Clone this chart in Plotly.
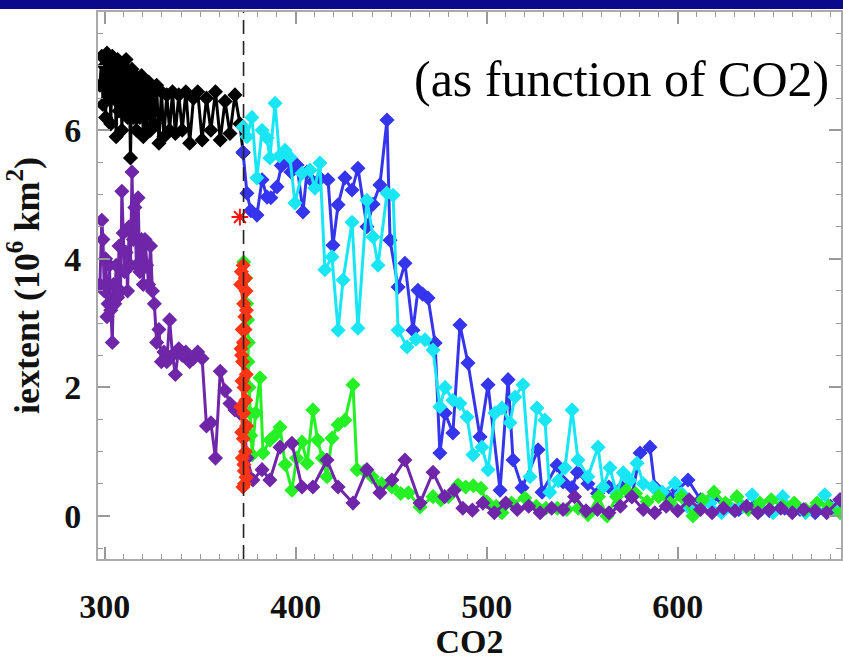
import plotly.graph_objects as go

# ---------------- data ----------------
hist_co2 = [297.5, 298.5, 299.1, 299.8, 300.5, 301.2, 301.8, 302.5, 303.2, 304.0,
            304.6, 305.3, 306.0, 306.8, 307.5, 308.3, 309.0, 309.7, 310.4, 311.2,
            312.0, 312.8, 313.5, 314.3, 315.0, 315.8, 316.6, 317.5, 318.4, 319.3,
            320.2, 321.1, 322.0, 323.0, 324.0, 325.0, 326.0, 327.2, 328.4, 329.7,
            331.0, 332.5, 334.0, 335.5, 337.0, 338.8, 340.6, 342.5, 344.5, 346.5,
            348.7, 351.0, 353.3, 355.6, 358.0, 360.5, 363.0, 365.6, 368.2, 370.8, 372.5]

black_ext = [6.7, 7.15, 6.4, 7.0, 6.2, 7.2, 6.5, 7.1, 6.1, 7.15,
             6.5, 7.0, 5.9, 7.1, 6.3, 7.05, 6.0, 7.0, 6.3, 7.1,
             6.2, 6.9, 5.57, 6.95, 6.2, 6.85, 6.0, 6.8, 6.2, 6.85,
             5.9, 6.7, 6.0, 6.75, 6.0, 6.6, 6.1, 6.7, 5.8, 6.6,
             5.9, 6.55, 6.0, 6.6, 5.95, 6.55, 6.0, 6.6, 5.8, 6.5,
             6.6, 5.85, 6.5, 6.0, 6.6, 5.85, 6.45, 5.95, 6.55, 6.1, 5.65]

purple_co2 = hist_co2 + [374.5, 377.6, 382.4, 386.5, 391.8, 398.0, 403.3, 409.0, 416.4, 422.2,
                         430.0, 437.3, 444.1, 450.4, 457.2, 465.1, 471.9, 478.0, 483.0, 487.5,
                         492.5, 498.0, 504.0, 510.0, 516.0, 522.0, 528.0, 534.0, 540.0, 546.0,
                         552.0, 558.0, 564.0, 570.0, 576.0, 582.0, 588.0, 594.0, 600.0, 606.0,
                         612.0, 618.0, 624.0, 630.0, 636.0, 642.0, 648.0, 654.0, 660.0, 666.0,
                         672.0, 678.0, 685.0]
purple_ext = [3.6, 4.6, 4.3, 3.5, 4.0, 3.1, 3.3, 3.9, 3.2, 2.7,
              3.6, 3.3, 3.9, 3.4, 4.2, 3.5, 5.05, 4.4, 3.8, 4.1,
              3.5, 4.5, 3.9, 5.35, 4.3, 4.8, 3.9, 4.95, 3.8, 4.3,
              3.6, 4.3, 3.9, 3.6, 4.2, 3.5, 3.3, 2.7, 2.9, 2.4,
              2.55, 2.4, 3.05, 2.5, 2.2, 2.6, 2.5, 2.55, 2.4, 2.45,
              2.55, 2.45, 1.4, 1.45, 0.9, 2.25, 1.95, 1.75, 1.65, 1.6, 1.6,
              0.9, 0.56, 0.72, 0.56, 1.07, 1.13, 0.45, 0.45, 0.87, 0.45,
              0.20, 0.72, 0.36, 0.56, 0.87, 0.20, 0.68, 0.30, 0.40, 0.12,
              0.09, 0.20, 0.05, 0.20, 0.10, 0.15, 0.05, 0.12, 0.10, 0.30,
              0.08, 0.10, 0.05, 0.15, 0.30, 0.10, 0.05, 0.15, 0.08, 0.25,
              0.10, 0.05, 0.12, 0.08, 0.15, 0.05, 0.10, 0.12, 0.05, 0.10,
              0.08, 0.05, 0.25]

blue_co2 = [372.4, 374.5, 376.5, 379.7, 382.4, 385.0, 387.0, 390.2, 392.5, 394.4,
            397.5, 400.7, 403.8, 405.9, 409.0, 413.0, 416.9, 419.5, 422.2, 425.8,
            429.5, 432.6, 437.3, 440.5, 444.1, 447.8, 449.4, 453.6, 457.2, 461.4,
            464.0, 466.5, 469.3, 473.0, 475.5, 478.2, 482.3, 486.0, 490.2, 496.5,
            500.7, 507.0, 511.2, 513.8, 518.5, 526.9, 529.0, 536.8, 540.0, 544.7,
            547.5, 553.0, 558.0, 564.0, 570.8, 576.0, 580.3, 585.5, 588.0, 595.0,
            600.0, 605.4, 612.0, 618.5, 625.0, 632.0, 640.0, 648.0, 656.0, 664.0,
            672.0, 680.0, 685.0]
blue_ext = [5.66, 5.02, 4.75, 4.68, 5.23, 4.96, 4.95, 5.12, 5.45, 5.58,
            5.35, 5.46, 4.73, 5.35, 5.20, 5.25, 5.23, 4.21, 4.84, 5.26,
            5.07, 5.41, 4.50, 4.85, 5.15, 6.16, 4.29, 3.56, 3.93, 2.89,
            3.51, 3.45, 3.39, 2.69, 0.98, 1.60, 1.29, 2.97, 2.38, 1.23,
            2.04, 0.40, 2.12, 0.87, 0.44, 1.03, 0.37, 0.79, 0.53, 0.44,
            0.68, 0.50, 0.35, 0.45, 0.44, 0.30, 0.98, 1.07, 0.45, 0.30,
            0.40, 0.56, 0.25, 0.30, 0.15, 0.10, 0.15, 0.08, 0.12, 0.10,
            0.05, 0.15, 0.25]

cyan_co2 = [372.4, 374.5, 377.1, 379.7, 382.4, 385.0, 386.5, 389.2, 391.5, 394.4,
            397.0, 399.6, 403.3, 407.5, 410.0, 412.7, 415.3, 419.0, 422.2, 424.8,
            429.5, 432.6, 437.3, 440.5, 443.1, 447.8, 451.0, 453.6, 458.3, 463.0,
            467.7, 471.9, 475.5, 478.2, 482.3, 486.0, 489.7, 492.8, 497.5, 500.7,
            504.3, 508.0, 512.2, 514.8, 519.0, 522.7, 526.3, 530.5, 533.0, 537.5,
            541.0, 544.7, 547.8, 553.0, 558.3, 561.0, 564.5, 568.0, 571.5, 575.0,
            578.7, 582.0, 587.0, 592.0, 598.6, 602.0, 605.0, 611.0, 617.0, 623.0,
            629.0, 634.0, 639.0, 644.0, 650.0, 655.0, 661.0, 667.0, 672.0, 677.0,
            681.0, 685.0]
cyan_ext = [6.05, 5.90, 6.20, 5.26, 6.00, 5.88, 5.57, 6.42, 5.60, 5.69,
            5.58, 4.87, 5.33, 5.38, 5.10, 5.49, 3.83, 4.03, 2.89, 3.67,
            4.57, 2.92, 4.91, 4.34, 3.90, 5.02, 4.99, 2.89, 2.63, 2.75,
            2.74, 2.58, 1.70, 2.00, 1.80, 1.75, 1.54, 0.95, 1.07, 0.72,
            1.60, 1.68, 1.45, 1.85, 2.04, 0.61, 1.68, 1.49, 0.37, 0.55,
            0.75, 1.65, 0.87, 0.61, 1.07, 0.45, 0.75, 0.35, 0.67, 0.55,
            0.82, 0.50, 0.45, 0.37, 0.51, 0.35, 0.15, 0.10, 0.20, 0.05,
            0.10, 0.15, 0.33, 0.10, 0.05, 0.30, 0.10, 0.05, 0.10, 0.33,
            0.10, 0.20]

green_co2 = [372.8, 373.8, 374.3, 374.8, 375.2, 375.0, 375.6, 376.0, 376.5, 377.2,
             379.0, 381.3, 382.9, 386.5, 389.0, 391.8, 394.5, 398.0, 400.5, 403.3,
             406.0, 409.0, 411.5, 414.0, 416.4, 419.0, 422.2, 425.8, 430.0, 432.1,
             436.0, 440.0, 445.0, 450.4, 455.0, 459.0, 465.1, 471.9, 476.0, 480.0,
             485.0, 489.0, 493.0, 497.0, 500.0, 505.0, 508.0, 513.0, 520.0, 526.0,
             531.0, 537.0, 542.0, 548.0, 553.0, 558.5, 563.0, 568.0, 573.0, 578.0,
             584.0, 590.0, 596.0, 602.0, 608.0, 613.0, 619.0, 625.0, 631.0, 637.0,
             643.0, 649.0, 655.0, 661.0, 667.0, 673.0, 679.0, 685.0]
green_ext = [3.95, 3.70, 3.30, 3.05, 2.70, 2.40, 2.00, 1.60, 1.25, 0.95,
             1.60, 2.15, 0.98, 1.18, 1.25, 1.38, 0.80, 0.40, 0.90, 1.15,
             0.82, 1.65, 1.18, 0.90, 0.61, 1.21, 1.42, 1.49, 2.04, 0.72,
             0.70, 0.61, 0.50, 0.45, 0.35, 0.36, 0.14, 0.30, 0.25, 0.30,
             0.48, 0.45, 0.47, 0.43, 0.22, 0.15, 0.05, 0.20, 0.28, 0.15,
             0.12, 0.12, 0.10, 0.12, 0.02, 0.30, 0.00, 0.30, 0.40, 0.35,
             0.22, 0.30, 0.20, 0.30, 0.00, 0.25, 0.37, 0.20, 0.30, 0.10,
             0.20, 0.25, 0.15, 0.20, 0.10, 0.20, 0.15, 0.05]

red_co2 = [372.5, 373.6, 371.6, 374.0, 372.8, 371.2, 373.4, 372.0, 374.2, 372.6,
           371.4, 373.5, 372.2, 374.1, 371.7, 373.0, 373.9, 371.9, 372.7, 374.3,
           371.3, 372.6, 373.7, 371.8, 372.9, 374.0, 372.1, 373.2, 372.4, 373.1]
red_ext = [3.90, 3.70, 3.80, 3.50, 3.30, 3.60, 3.10, 2.90, 3.20, 2.70,
           2.60, 2.90, 2.40, 2.20, 2.50, 2.00, 1.80, 2.10, 1.60, 1.40,
           1.70, 1.20, 1.00, 1.30, 0.80, 0.60, 0.90, 0.50, 0.45, 0.70]

obs_co2 = [370.8]
obs_ext = [4.65]
ref_co2 = 372.7

x_ticks = [300, 400, 500, 600]
y_ticks = [0, 2, 4, 6]

# ---------------- figure ----------------
W, H = 843, 660
ml, mr, mt, mb = 98, 2, 12, 101

fig = go.Figure()

def add_series(x, y, color, msize=10, lw=3):
    fig.add_trace(go.Scatter(
        x=x, y=y, mode="lines+markers",
        line=dict(color=color, width=lw),
        marker=dict(symbol="diamond", size=msize, color=color,
                    line=dict(color=color, width=1.5)),
        showlegend=False, hoverinfo="skip"))

add_series(hist_co2, black_ext, "#000000")
add_series(blue_co2, blue_ext, "#3535EE")
add_series(cyan_co2, cyan_ext, "#19E6F5")
add_series(green_co2, green_ext, "#25F025")
add_series(purple_co2, purple_ext, "#7026A8")
add_series(red_co2, red_ext, "#FF3515")

fig.add_trace(go.Scatter(
    x=obs_co2, y=obs_ext, mode="markers",
    marker=dict(symbol="asterisk-open", size=14, color="#FF1010",
                line=dict(color="#FF1010", width=2)),
    showlegend=False, hoverinfo="skip"))

fig.add_vline(x=ref_co2, line=dict(color="#222222", width=1.6, dash="14px,7px"),
              layer="above")

axis_font = dict(family="Liberation Serif", size=34, color="#111111", weight="bold")
axcol = "#aaaaaa"

fig.update_xaxes(
    range=[296.5, 685.5], tickvals=x_ticks, ticktext=[str(v) for v in x_ticks],
    ticks="inside", ticklen=12, tickwidth=1.5, tickcolor="#999999",
    minor=dict(dtick=10, tick0=300, ticks="inside", ticklen=5, tickcolor="#999999", tickwidth=1),
    showline=True, linecolor=axcol, linewidth=2, mirror="allticks",
    showgrid=False, zeroline=False,
    tickfont=axis_font, ticklabelstandoff=16,
    title=dict(text="CO2", font=axis_font, standoff=2),
)
fig.update_yaxes(
    range=[-0.67, 7.84], tickvals=y_ticks, ticktext=[str(v) for v in y_ticks],
    ticks="inside", ticklen=12, tickwidth=1.5, tickcolor="#999999",
    minor=dict(dtick=0.5, tick0=0, ticks="inside", ticklen=5, tickcolor="#999999", tickwidth=1),
    showline=True, linecolor=axcol, linewidth=2, mirror="allticks",
    showgrid=False, zeroline=False,
    tickfont=axis_font, ticklabelstandoff=8,
    title=dict(text="iextent (10<sup>6</sup> km<sup>2</sup>)",
               font=dict(family="Liberation Serif", size=36, color="#111111", weight="bold"),
               standoff=14),
)

plot_h = H - mt - mb
fig.add_shape(type="rect", xref="paper", yref="paper",
              x0=-ml / (W - ml - mr), x1=1 + mr / (W - ml - mr),
              y0=1 + (mt - 9) / plot_h, y1=1 + mt / plot_h,
              fillcolor="#0A0A8A", line=dict(width=0), layer="above")

fig.add_annotation(text="(as function of CO2)", xref="paper", yref="paper",
                   x=0.705, y=0.877, xanchor="center", yanchor="middle",
                   showarrow=False,
                   font=dict(family="Liberation Serif", size=50, color="#000000"))

fig.update_layout(
    width=W, height=H, autosize=False,
    margin=dict(l=ml, r=mr, t=mt, b=mb, autoexpand=False),
    paper_bgcolor="white", plot_bgcolor="white",
    showlegend=False,
)

fig.write_html("out.html")
